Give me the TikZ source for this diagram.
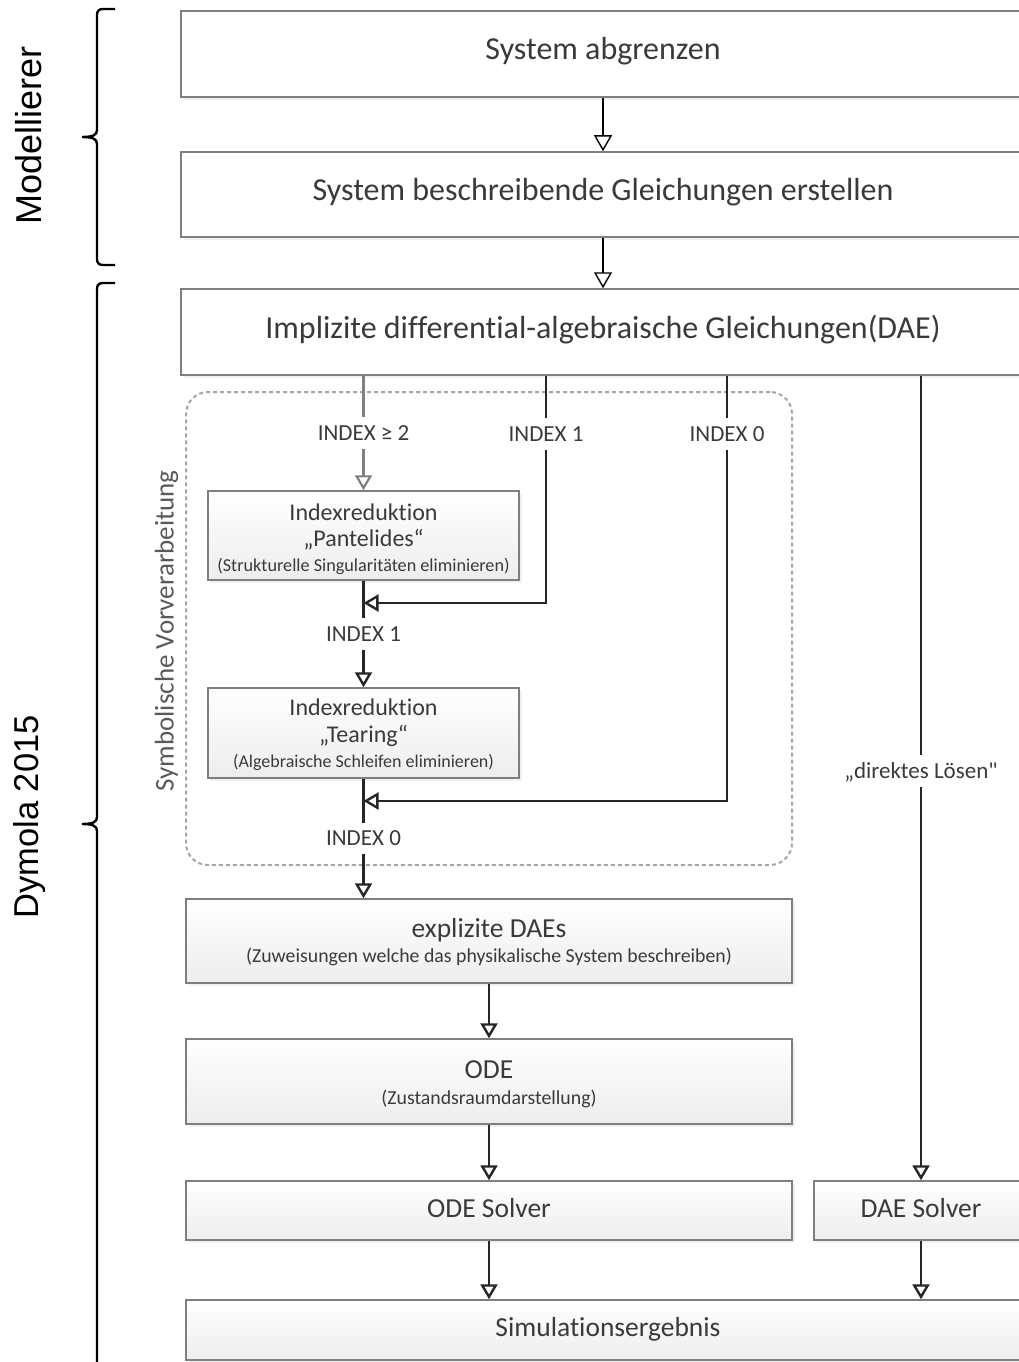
\documentclass[tikz,border=0pt]{standalone}
\usepackage{fontspec}
\setmainfont{Carlito}[Ligatures=NoCommon]
\newfontfamily\arialfont{Liberation Sans}
\usetikzlibrary{arrows.meta,shadows,calc}
\definecolor{boxborder}{HTML}{7F7F7F}
\definecolor{txt}{HTML}{3A3A3A}
\definecolor{lnk}{HTML}{262626}
\definecolor{dashc}{HTML}{A6A6A6}
\definecolor{shad}{HTML}{E2E2E2}
\definecolor{gradb}{HTML}{EDEDED}
\definecolor{grayl}{HTML}{808080}
\definecolor{sidetxt}{HTML}{595959}
\newcommand{\fs}[1]{\fontsize{#1}{#1}\selectfont}
\newcommand{\straightq}{\XeTeXglyph\XeTeXcharglyph"22\relax}
\begin{document}
\begin{tikzpicture}[x=1pt,y=-1pt,
  box/.style={draw=boxborder, line width=1.5pt, rectangle, inner sep=0pt,
    drop shadow={shadow xshift=3pt, shadow yshift=-3pt, fill=shad}, text=txt},
  topbox/.style={box, fill=white, font=\fs{32}, text height=20.6pt, text depth=8.6pt},
  lowbox/.style={box, top color=white, bottom color=gradb},
  lowsingle/.style={lowbox, font=\fs{27.5}, text height=17.7pt, text depth=4.1pt},
  lab/.style={font=\fs{23}, text=txt, inner xsep=2pt, inner ysep=8pt, text height=14.8pt, text depth=0pt},
  intext/.style={text=txt, inner sep=0pt, anchor=base},
  ln/.style={draw=lnk, line width=2.4pt},
  arr/.style={ln, -{Triangle[fill=white, length=15pt, width=17pt]}},
  toparr/.style={draw=black, line width=1.4pt, -{Triangle[fill=white, length=16pt, width=18pt]}},
  grayln/.style={draw=grayl, line width=2.2pt},
  grayarr/.style={grayln, -{Triangle[fill=white, length=15pt, width=17pt]}},
  grp/.style={draw=dashc, line width=2pt, dash pattern=on 4pt off 3pt, rounded corners=22pt, rectangle, inner sep=0pt},
  bracepath/.style={draw=black, line width=2.4pt},
  sidelab/.style={rotate=90, anchor=base, inner sep=0pt}
]
\useasboundingbox (0,0) rectangle (1019,1362);
\fill[white] (0,0) rectangle (1019,1362);
\begin{scope}
\clip (0,0) rectangle (1019,1362);

% side labels and braces
\node[sidelab, font=\arialfont\fs{36}] (modl) at (41.5,135.5) {Modellierer};
\node[sidelab, font=\arialfont\fs{34.5}] (dyml) at (38.5,817) {Dymola 2015};
\draw[bracepath] (115,9) -- (103,9) .. controls (99,9) and (97,11) .. (97,15)
  -- (97,130) .. controls (97,135) and (93,137) .. (82,137)
  .. controls (93,137) and (97,139) .. (97,144)
  -- (97,259) .. controls (97,263) and (99,265) .. (103,265) -- (115,265);
\draw[bracepath] (115,283) -- (103,283) .. controls (99,283) and (97,285) .. (97,289)
  -- (97,817) .. controls (97,822) and (93,824) .. (82,824)
  .. controls (93,824) and (97,826) .. (97,831)
  -- (97,1380);

% group frame
\node[grp, minimum width=606pt, minimum height=473pt] (vor) at (489,628.5) {};
\node[sidelab, font=\fs{27}, text=sidetxt] (vorl) at (173.5,631) {Symbolische Vorverarbeitung};

% top boxes
\node[topbox, minimum width=844pt, minimum height=86pt] (b1) at (603,54) {System abgrenzen};
\node[topbox, minimum width=844pt, minimum height=85pt] (b2) at (603,194.5) {System beschreibende Gleichungen erstellen};
\node[topbox, minimum width=844pt, minimum height=86pt] (b3) at (603,332) {Implizite differential-algebraische Gleichungen(DAE)};

% index reduction boxes
\node[lowbox, minimum width=311pt, minimum height=89pt] (pant) at (363.5,535.5) {};
\node[intext, font=\fs{24}] (pant1) at (363.5,520) {Indexreduktion};
\node[intext, font=\fs{24}] (pant2) at (363.5,546) {„Pantelides“};
\node[intext, font=\fs{18.2}] (pant3) at (363.5,571) {(Strukturelle Singularitäten eliminieren)};

\node[lowbox, minimum width=311pt, minimum height=90pt] (tear) at (363.5,733) {};
\node[intext, font=\fs{24}] (tear1) at (363.5,715) {Indexreduktion};
\node[intext, font=\fs{24}] (tear2) at (363.5,742) {„Tearing“};
\node[intext, font=\fs{18}] (tear3) at (363.5,767) {(Algebraische Schleifen eliminieren)};

% lower boxes
\node[lowbox, minimum width=606pt, minimum height=84pt] (expl) at (489,941) {};
\node[intext, font=\fs{27.5}] (expl1) at (489,937) {explizite DAEs};
\node[intext, font=\fs{19.8}] (expl2) at (489,962) {(Zuweisungen welche das physikalische System beschreiben)};

\node[lowbox, minimum width=606pt, minimum height=85pt] (ode) at (489,1081.5) {};
\node[intext, font=\fs{27.5}] (ode1) at (489,1078) {ODE};
\node[intext, font=\fs{19.8}] (ode2) at (489,1104) {(Zustandsraumdarstellung)};

\node[lowsingle, minimum width=606pt, minimum height=59pt] (odes) at (489,1210.5) {ODE Solver};
\node[lowsingle, minimum width=214pt, minimum height=59pt] (daes) at (921,1210.5) {DAE Solver};
\node[lowsingle, minimum width=844pt, minimum height=60pt] (sim) at (608,1330) {Simulationsergebnis};

% labels on connectors
\node[lab] (idx2) at (363.5,433) {INDEX ≥ 2};
\node[lab] (idx1a) at (546,434) {INDEX 1};
\node[lab] (idx0a) at (727,434) {INDEX 0};
\node[lab] (idx1b) at (363.5,634) {INDEX 1};
\node[lab] (idx0b) at (363.5,838.5) {INDEX 0};
\node[lab] (dir) at (921,771) {„direktes Lösen\straightq};

\coordinate (j1) at (363.5,603);
\coordinate (j2) at (363.5,801);

% connectors
\draw[toparr] (b1) -- (b2);
\draw[toparr] (b2) -- (b3);
\draw[grayln] (idx2.north |- b3.south) -- (idx2);
\draw[grayarr] (idx2) -- (pant);
\draw[ln] (idx1a.north |- b3.south) -- (idx1a);
\draw[arr] (idx1a) |- (j1);
\draw[ln] (idx0a.north |- b3.south) -- (idx0a);
\draw[arr] (idx0a) |- (j2);
\draw[ln] (pant) -- (idx1b);
\draw[arr] (idx1b) -- (tear);
\draw[ln] (tear) -- (idx0b);
\draw[arr] (idx0b) -- (idx0b |- expl.north);
\draw[arr] (expl) -- (ode);
\draw[arr] (ode) -- (odes);
\draw[arr] (odes) -- (odes |- sim.north);
\draw[ln] (dir.north |- b3.south) -- (dir);
\draw[arr] (dir) -- (daes);
\draw[arr] (daes) -- (daes |- sim.north);
\end{scope}
\end{tikzpicture}
\end{document}
